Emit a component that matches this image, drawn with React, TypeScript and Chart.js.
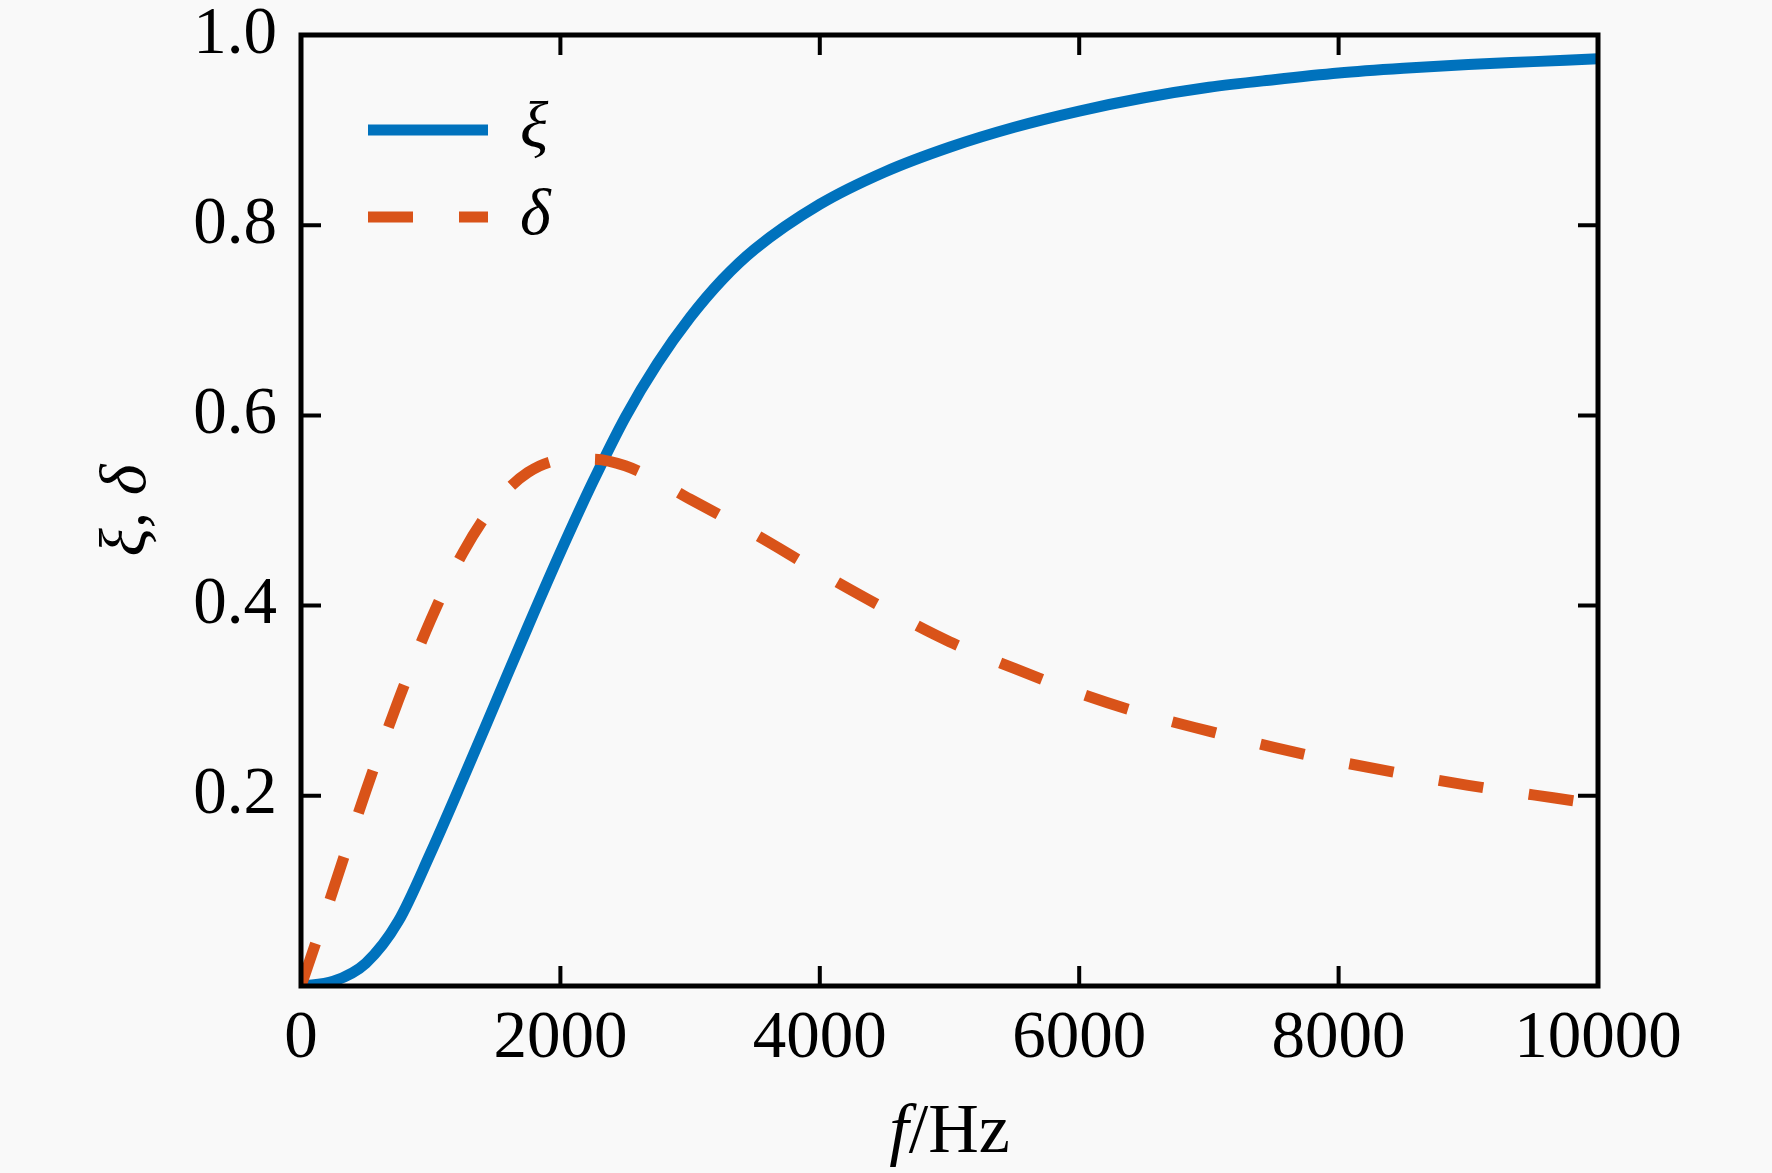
import React, { useEffect, useRef } from "react";
import { Chart, registerables, Plugin } from "chart.js";

Chart.register(...registerables);

// values
const freqXi = [0, 250, 500, 750, 1000, 1250, 1500, 1750, 2000, 2250, 2500, 2750, 3000, 3250, 3500, 4000, 4500, 5000, 5500, 6000, 6500, 7000, 7500, 8000, 8500, 9000, 9500, 10000];
const xiValues = [0, 0.005, 0.024, 0.068, 0.14, 0.218, 0.298, 0.378, 0.456, 0.53, 0.598, 0.655, 0.703, 0.743, 0.775, 0.822, 0.856, 0.882, 0.903, 0.92, 0.934, 0.945, 0.953, 0.96, 0.965, 0.969, 0.972, 0.975];

const freqDelta = [0, 125, 250, 500, 750, 1000, 1250, 1500, 1750, 2000, 2250, 2500, 2750, 3000, 3500, 4000, 4500, 5000, 5500, 6000, 6500, 7000, 7500, 8000, 8500, 9000, 9500, 10000];
const deltaValues = [0, 0.05, 0.102, 0.205, 0.3, 0.385, 0.456, 0.508, 0.54, 0.553, 0.554, 0.547, 0.531, 0.512, 0.475, 0.435, 0.397, 0.362, 0.334, 0.308, 0.286, 0.268, 0.251, 0.236, 0.223, 0.211, 0.201, 0.191];

const xTicks = [0, 2000, 4000, 6000, 8000, 10000];
const yTicks = [0.2, 0.4, 0.6, 0.8, 1.0];

const FONT = "'Liberation Serif', 'Times New Roman', Times, serif";
const BLUE = "#0072BD";
const ORANGE = "#D95319";
const BG = "#f9f9f9";

// MATLAB-like box with inward ticks
const framePlugin: Plugin<"line"> = {
  id: "frame",
  afterDatasetsDraw(chart) {
    const { ctx, chartArea: a, scales } = chart;
    const xs = scales.x;
    const ys = scales.y;
    ctx.save();
    ctx.strokeStyle = "#000";
    ctx.lineWidth = 4;
    ctx.beginPath();
    xTicks.forEach((v) => {
      const px = xs.getPixelForValue(v);
      if (px <= a.left + 2 || px >= a.right - 2) return;
      ctx.moveTo(px, a.bottom);
      ctx.lineTo(px, a.bottom - 20);
      ctx.moveTo(px, a.top);
      ctx.lineTo(px, a.top + 20);
    });
    yTicks.forEach((v) => {
      const py = ys.getPixelForValue(v);
      if (py <= a.top + 2 || py >= a.bottom - 2) return;
      ctx.moveTo(a.left, py);
      ctx.lineTo(a.left + 20, py);
      ctx.moveTo(a.right, py);
      ctx.lineTo(a.right - 20, py);
    });
    ctx.stroke();
    ctx.lineWidth = 5;
    ctx.strokeRect(a.left, a.top, a.right - a.left, a.bottom - a.top);
    ctx.restore();
  },
};

const legendPlugin: Plugin<"line"> = {
  id: "innerLegend",
  afterDraw(chart) {
    const { ctx, chartArea: a } = chart;
    const x0 = a.left + 67;
    const x1 = a.left + 187;
    const tx = a.left + 219;
    const rows = [a.top + 95, a.top + 182];
    chart.data.datasets.forEach((ds: any, i) => {
      const y = rows[i];
      ctx.save();
      ctx.strokeStyle = ds.borderColor;
      ctx.lineWidth = ds.borderWidth;
      ctx.lineCap = "butt";
      ctx.setLineDash(ds.borderDash || []);
      ctx.beginPath();
      ctx.moveTo(x0, y);
      ctx.lineTo(x1, y);
      ctx.stroke();
      ctx.setLineDash([]);
      ctx.fillStyle = "#000";
      ctx.font = `italic 66px ${FONT}`;
      ctx.textBaseline = "middle";
      ctx.textAlign = "left";
      ctx.fillText(ds.label, tx, y);
      ctx.restore();
    });
  },
};

// x title "f/Hz" with italic f
const xTitlePlugin: Plugin<"line"> = {
  id: "xTitle",
  afterDraw(chart) {
    const { ctx, chartArea: a } = chart;
    ctx.save();
    ctx.fillStyle = "#000";
    ctx.textBaseline = "alphabetic";
    ctx.textAlign = "left";
    const italic = `italic 70px ${FONT}`;
    const normal = `70px ${FONT}`;
    ctx.font = italic;
    const w1 = ctx.measureText("f").width;
    ctx.font = normal;
    const w2 = ctx.measureText("/Hz").width;
    const start = (a.left + a.right) / 2 - (w1 + w2) / 2;
    const y = a.bottom + 166;
    ctx.font = italic;
    ctx.fillText("f", start, y);
    ctx.font = normal;
    ctx.fillText("/Hz", start + w1, y);
    ctx.restore();
  },
};

const App: React.FC = () => {
  const canvasRef = useRef<HTMLCanvasElement | null>(null);

  useEffect(() => {
    if (!canvasRef.current) return;
    const chart = new Chart(canvasRef.current, {
      type: "line",
      data: {
        datasets: [
          {
            label: "ξ",
            data: freqXi.map((f, i) => ({ x: f, y: xiValues[i] })),
            borderColor: BLUE,
            borderWidth: 11,
            pointRadius: 0,
            cubicInterpolationMode: "monotone",
            borderCapStyle: "butt",
            borderJoinStyle: "round",
            fill: false,
            order: 1,
          },
          {
            label: "δ",
            data: freqDelta.map((f, i) => ({ x: f, y: deltaValues[i] })),
            borderColor: ORANGE,
            borderWidth: 11,
            borderDash: [45, 46],
            pointRadius: 0,
            cubicInterpolationMode: "monotone",
            borderCapStyle: "butt",
            borderJoinStyle: "round",
            fill: false,
            order: 0,
          },
        ],
      },
      options: {
        responsive: true,
        maintainAspectRatio: false,
        animation: false,
        layout: { padding: { left: 0, top: 35, right: 174, bottom: 0 } },
        plugins: {
          legend: { display: false },
          tooltip: { enabled: false },
        },
        scales: {
          x: {
            type: "linear",
            min: 0,
            max: 10000,
            grid: { display: false, drawTicks: false },
            border: { display: false },
            afterBuildTicks: (scale) => {
              scale.ticks = xTicks.map((v) => ({ value: v }));
            },
            afterFit: (scale: any) => {
              scale.height = 187;
            },
            ticks: {
              autoSkip: false,
              maxRotation: 0,
              padding: 20,
              color: "#000",
              font: { family: FONT, size: 67, lineHeight: 1 },
              callback: (v) => String(v),
            },
          },
          y: {
            type: "linear",
            min: 0,
            max: 1,
            grid: { display: false, drawTicks: false },
            border: { display: false },
            afterBuildTicks: (scale) => {
              scale.ticks = yTicks.map((v) => ({ value: v }));
            },
            afterFit: (scale: any) => {
              scale.width = 301;
              scale.paddingTop = 0;
              scale.paddingBottom = 0;
            },
            ticks: {
              autoSkip: false,
              padding: 24,
              color: "#000",
              font: { family: FONT, size: 67, lineHeight: 1 },
              callback: (v) => Number(v).toFixed(1),
            },
            title: {
              display: true,
              text: "ξ, δ",
              color: "#000",
              padding: { top: 88, bottom: 0 },
              font: { family: FONT, size: 66, style: "italic", lineHeight: 1.2 },
            },
          },
        },
      },
      plugins: [framePlugin, legendPlugin, xTitlePlugin],
    });
    return () => chart.destroy();
  }, []);

  return (
    <div
      style={{
        position: "fixed",
        left: 0,
        top: 0,
        width: 1772,
        height: 1173,
        background: BG,
      }}
    >
      <canvas ref={canvasRef}></canvas>
    </div>
  );
};

export default App;
